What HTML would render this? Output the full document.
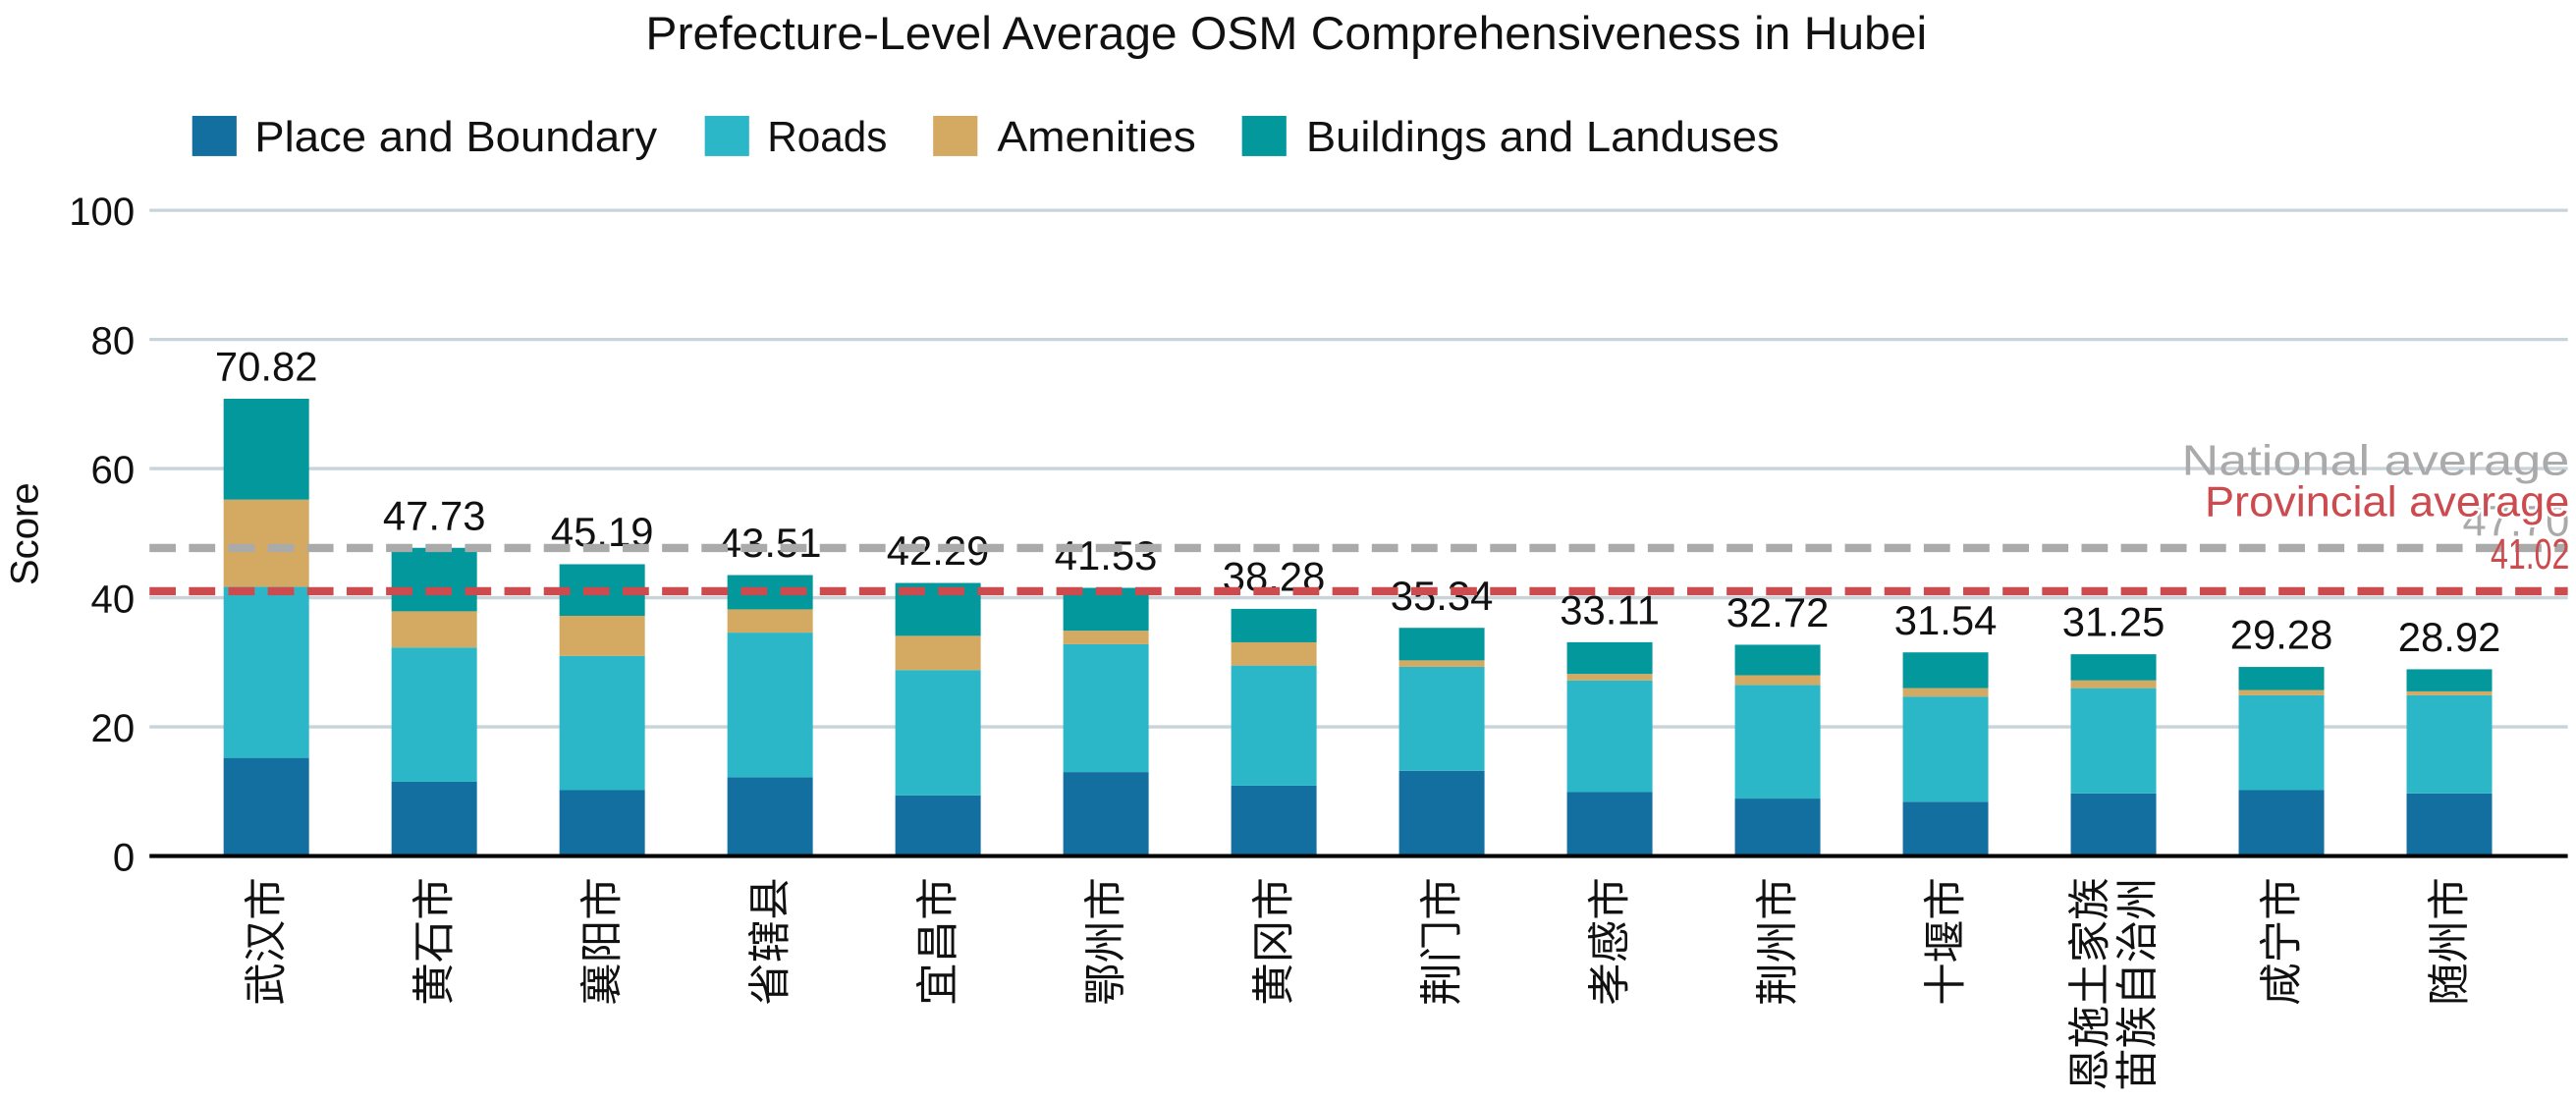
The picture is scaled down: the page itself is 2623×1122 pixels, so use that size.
<!DOCTYPE html>
<html><head><meta charset="utf-8"><style>
html,body{margin:0;padding:0;background:#fff;}
svg{display:block;font-family:"Liberation Sans","Noto Sans CJK SC",sans-serif;}
</style></head><body>
<svg id="chart" width="2623" height="1122" viewBox="0 0 1568 670.7" xmlns="http://www.w3.org/2000/svg">
<text x="783" y="30" text-anchor="middle" font-size="28" textLength="780" lengthAdjust="spacingAndGlyphs" fill="#111">Prefecture-Level Average OSM Comprehensiveness in Hubei</text>
<g id="legend"></g>
<g id="grid"></g>
<g id="bars"></g>
<g id="refs"></g>
<text transform="translate(23,325) rotate(-90)" text-anchor="middle" font-size="24" fill="#111">Score</text>
</svg>
<script>
const categories = ["武汉市","黄石市","襄阳市","省辖县","宜昌市","鄂州市","黄冈市","荆门市","孝感市","荆州市","十堰市","恩施土家族\n苗族自治州","咸宁市","随州市"];
const placeBoundary = [15.2,11.5,10.2,12.2,9.4,13.0,10.9,13.2,9.9,8.9,8.4,9.7,10.2,9.7];
const roads = [26.5,20.8,20.8,22.4,19.4,19.8,18.6,16.1,17.3,17.6,16.3,16.3,14.7,15.2];
const amenities = [13.5,5.6,6.2,3.6,5.3,2.1,3.6,1.0,1.0,1.5,1.3,1.2,0.8,0.6];
const buildings = [15.62,9.83,7.99,5.31,8.19,6.63,5.18,5.04,4.91,4.72,5.54,4.05,3.58,3.42];
const totals = ["70.82","47.73","45.19","43.51","42.29","41.53","38.28","35.34","33.11","32.72","31.54","31.25","29.28","28.92"];
const yTicks = [0,20,40,60,80,100];
const nationalAvg = 47.7;
const provincialAvg = 41.02;
const seriesNames = ["Place and Boundary","Roads","Amenities","Buildings and Landuses"];

const NS="http://www.w3.org/2000/svg";
const colors=["#136fa0","#2cb7c9","#d4aa62","#02989c"];
const plotL=91,plotR=1563,y0=521,y100=128;
const bandL=111,bandR=1542;
const y=v=>y0-(v/100)*(y0-y100);
const step=(bandR-bandL)/categories.length;
const xc=i=>bandL+step*(i+0.5);
const bw=52;
function el(t,a,p){const e=document.createElementNS(NS,t);for(const k in a)e.setAttribute(k,a[k]);p.appendChild(e);return e;}
const grid=document.getElementById('grid'),bars=document.getElementById('bars'),refs=document.getElementById('refs'),leg=document.getElementById('legend');

yTicks.forEach(t=>{
  if(t>0){const l=el('line',{x1:plotL,x2:plotR,y1:y(t),y2:y(t),stroke:'#c8d3da','stroke-width':2},grid);
  
  }
  const tx=el('text',{x:82,y:y(t)+9,'text-anchor':'end','font-size':24,fill:'#111'},grid);tx.textContent=t;
  
  
});

const legX=[117,429,568,756];
const legTX=[155,467,607,795];
const legW=[245,73,121,288];
seriesNames.forEach((n,i)=>{
  const r=el('rect',{x:legX[i],y:70.5,width:27,height:24.5,fill:colors[i]},leg);
  
  
  const t=el('text',{x:legTX[i],y:92,'font-size':26,textLength:legW[i],lengthAdjust:'spacingAndGlyphs',fill:'#111'},leg);t.textContent=n;
  
  
});

const series=[placeBoundary,roads,amenities,buildings];
categories.forEach((c,i)=>{
  let acc=0;
  series.forEach((s,j)=>{
    const r=el('rect',{x:xc(i)-bw/2,y:y(acc+s[i]),width:bw,height:y(acc)-y(acc+s[i]),fill:colors[j]},bars);
    
    
    acc+=s[i];
  });
  const v=el('text',{x:xc(i),y:y(acc)-11,'text-anchor':'middle','font-size':25,fill:'#111'},bars);v.textContent=totals[i];
  
  
  const lines=c.split('\n');
  lines.forEach((ln,k)=>{
    const off=(k-(lines.length-1)/2)*29;
    const t=el('text',{transform:`translate(${xc(i)+off+9},534) rotate(-90)`,'text-anchor':'end','font-size':26,fill:'#111'},bars);
    t.textContent=ln;
    
    
  });
});
const ax=el('line',{x1:plotL,x2:plotR,y1:y0,y2:y0,stroke:'#000','stroke-width':2.5},bars);



const nl=el('line',{x1:plotL,x2:plotR,y1:y(nationalAvg),y2:y(nationalAvg),stroke:'#aaaaaa','stroke-width':5,'stroke-dasharray':'16,8'},refs);


const pl=el('line',{x1:plotL,x2:plotR,y1:y(provincialAvg),y2:y(provincialAvg),stroke:'#cc4b4f','stroke-width':5,'stroke-dasharray':'16,8'},refs);


const t1=el('text',{x:1564,y:289,'text-anchor':'end','font-size':26,textLength:236,lengthAdjust:'spacingAndGlyphs',fill:'#aaaaaa'},refs);t1.textContent='National average';


const t3=el('text',{x:1564,y:326,'text-anchor':'end','font-size':26,fill:'#aaaaaa'},refs);t3.textContent=nationalAvg.toFixed(2);


const t2=el('text',{x:1564,y:314,'text-anchor':'end','font-size':26,textLength:222,lengthAdjust:'spacingAndGlyphs',fill:'#cc4b4f',stroke:'#fff','stroke-width':3,'paint-order':'stroke'},refs);t2.textContent='Provincial average';


const t4=el('text',{x:1564,y:346,'text-anchor':'end','font-size':26,textLength:48,lengthAdjust:'spacingAndGlyphs',fill:'#cc4b4f'},refs);t4.textContent=provincialAvg.toFixed(2);


</script>
</body></html>
